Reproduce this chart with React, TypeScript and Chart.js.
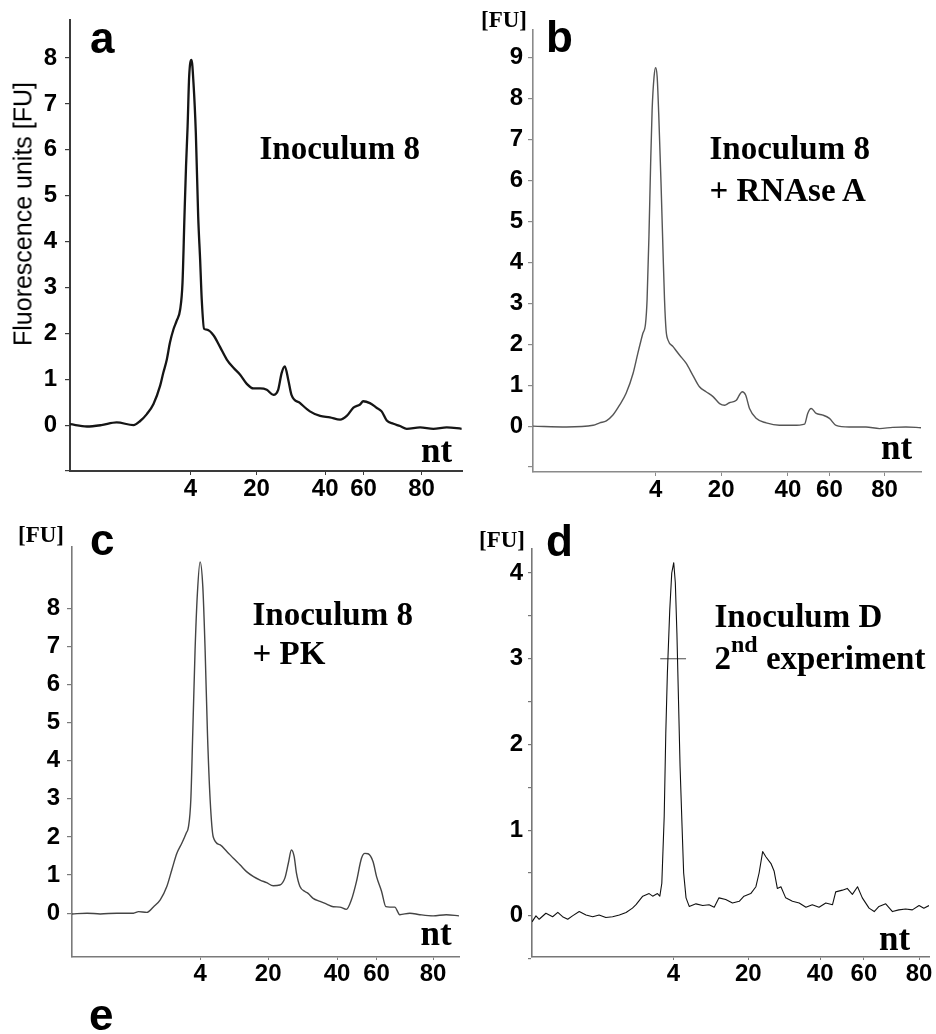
import React, { useEffect, useRef } from "react";
import { Chart, registerables } from "chart.js";
Chart.register(...registerables);

const SANS = '"Liberation Sans", Arial, sans-serif';
const SERIF = '"Liberation Serif", "Times New Roman", serif';

// x axis: migration position (0..100 of the axis), labelled with ladder sizes
const xTickLabels = ["4", "20", "40", "60", "80"];
const aTickPos = [30.7, 47.6, 65.1, 74.9, 89.7];
const bTickPos = [31.6, 48.5, 65.7, 76.4, 90.6];
const cTickPos = [33.1, 50.7, 68.5, 78.7, 93.3];
const dTickPos = [35.6, 54.5, 72.6, 83.6, 97.5];

// y ticks
const aYTicks = [-1, 0, 1, 2, 3, 4, 5, 6, 7, 8];
const aYLabels = [0, 1, 2, 3, 4, 5, 6, 7, 8];
const bYTicks = [-1, 0, 1, 2, 3, 4, 5, 6, 7, 8, 9];
const bYLabels = [0, 1, 2, 3, 4, 5, 6, 7, 8, 9];
const cYTicks = [0, 1, 2, 3, 4, 5, 6, 7, 8];
const cYLabels = [0, 1, 2, 3, 4, 5, 6, 7, 8];
const dYTicks = [-0.5, 0, 0.5, 1, 1.5, 2, 2.5, 3, 3.5, 4];
const dYLabels = [0, 1, 2, 3, 4];

// Panel a: Inoculum 8
const aX = [0, 4.3, 8, 11.9, 16.2, 17.9, 19.6, 21.3, 23.0, 23.8, 24.7, 25.5, 26.4, 27.2, 28.1, 28.7, 29.2, 29.6, 30.0, 30.4, 31.0, 31.5, 32.1, 32.7, 33.2, 33.6, 34.2, 34.9, 36.6, 38.3, 40.0, 41.7, 43.4, 45.1, 46.8, 48.5, 50.2, 51.9, 53.1, 54.0, 54.8, 55.7, 56.5, 58.7, 61.2, 63.8, 66.3, 68.9, 70.6, 72.3, 74.0, 74.8, 76.5, 78.2, 79.5, 80.8, 82.5, 84.2, 85.9, 89.3, 92.7, 96.1, 99.9];
const aY = [0.02, -0.03, 0.0, 0.06, 0.0, 0.09, 0.24, 0.46, 0.86, 1.14, 1.43, 1.8, 2.09, 2.27, 2.52, 3.1, 4.55, 5.64, 6.51, 7.6, 7.96, 7.46, 6.37, 4.55, 3.6, 2.75, 2.1, 2.08, 1.96, 1.7, 1.43, 1.25, 1.1, 0.9, 0.8, 0.8, 0.77, 0.66, 0.77, 1.14, 1.28, 0.98, 0.66, 0.48, 0.3, 0.2, 0.17, 0.12, 0.2, 0.38, 0.45, 0.52, 0.48, 0.38, 0.3, 0.1, 0.03, -0.02, -0.08, -0.05, -0.08, -0.05, -0.08];

// Panel b: Inoculum 8 + RNAse A
const bX = [0, 8.6, 15.5, 17.2, 18.9, 20.6, 22.3, 24.0, 25.8, 27.0, 28.3, 29.0, 29.4, 29.9, 30.3, 30.7, 31.2, 31.6, 32.0, 32.4, 33.0, 33.5, 33.9, 34.3, 34.8, 36.1, 37.8, 39.5, 41.2, 42.9, 44.6, 46.4, 48.1, 49.4, 50.6, 52.4, 53.2, 53.9, 54.8, 55.8, 57.5, 60.1, 63.5, 67.0, 70.0, 70.8, 71.7, 73.0, 74.7, 76.4, 78.1, 81.5, 85.8, 89.3, 92.7, 96.1, 100];
const bY = [0, -0.02, 0.02, 0.08, 0.13, 0.27, 0.51, 0.8, 1.29, 1.77, 2.26, 2.5, 3.08, 4.7, 6.33, 7.71, 8.53, 8.75, 8.53, 7.63, 5.92, 4.3, 3.08, 2.34, 2.1, 1.94, 1.73, 1.53, 1.24, 0.96, 0.84, 0.72, 0.55, 0.51, 0.57, 0.63, 0.76, 0.84, 0.76, 0.43, 0.19, 0.08, 0.02, 0.02, 0.05, 0.31, 0.43, 0.31, 0.27, 0.19, 0.02, -0.02, -0.02, -0.06, -0.03, -0.02, -0.04];

// Panel c: Inoculum 8 + PK
const cX = [0, 3.9, 7.3, 11.6, 15.9, 17.2, 19.3, 21.1, 22.8, 24.5, 25.8, 27.1, 28.4, 29.5, 30.1, 30.7, 31.2, 31.8, 32.4, 33.1, 33.8, 34.4, 35.0, 35.7, 36.5, 38.3, 40.0, 41.7, 43.4, 45.1, 46.9, 48.6, 50.3, 52.0, 53.7, 55.0, 55.9, 56.7, 57.4, 58.0, 58.9, 60.2, 61.0, 62.3, 64.1, 65.8, 67.5, 69.2, 70.9, 72.2, 73.5, 74.8, 75.7, 76.5, 77.8, 78.7, 80.0, 81.1, 82.1, 83.4, 84.7, 87.3, 89.9, 93.3, 96.7, 100];
const cY = [-0.02, 0, -0.02, 0, 0, 0.04, 0.02, 0.17, 0.35, 0.7, 1.14, 1.57, 1.84, 2.1, 2.27, 2.97, 4.72, 6.9, 8.39, 9.22, 8.57, 6.9, 4.72, 2.97, 2.0, 1.79, 1.62, 1.44, 1.27, 1.09, 0.96, 0.87, 0.8, 0.72, 0.74, 0.92, 1.31, 1.66, 1.49, 1.05, 0.7, 0.57, 0.52, 0.39, 0.31, 0.24, 0.17, 0.16, 0.1, 0.35, 0.83, 1.44, 1.57, 1.56, 1.35, 0.96, 0.57, 0.17, 0.16, 0.16, -0.04, 0, -0.04, -0.07, -0.04, -0.07];

// Panel d: Inoculum D, 2nd experiment
const dX = [0, 1.0, 1.8, 3.5, 5.2, 6.5, 7.7, 9.0, 10.2, 11.9, 13.6, 15.3, 16.9, 18.6, 20.3, 22.0, 23.7, 25.3, 26.2, 27.9, 29.5, 30.4, 31.6, 32.2, 32.7, 33.3, 33.7, 34.1, 34.7, 35.2, 35.7, 36.1, 36.5, 36.9, 37.3, 37.8, 38.2, 38.8, 39.6, 41.3, 43.0, 44.6, 45.9, 47.1, 48.8, 50.5, 52.2, 53.4, 55.1, 56.4, 57.2, 58.1, 58.9, 60.2, 61.0, 61.8, 62.7, 63.9, 65.6, 67.3, 69.0, 70.6, 72.3, 74.0, 75.7, 76.5, 78.2, 79.4, 80.7, 82.0, 83.2, 84.9, 86.2, 87.4, 89.1, 90.8, 92.4, 94.1, 95.8, 97.5, 98.7, 100];
const dY = [-0.07, 0, -0.04, 0.03, -0.01, 0.04, -0.01, -0.04, 0, 0.05, 0.01, -0.01, 0.01, -0.02, -0.01, 0.01, 0.04, 0.09, 0.13, 0.23, 0.26, 0.23, 0.26, 0.23, 0.38, 1.16, 2.13, 2.83, 3.57, 4.0, 4.12, 3.89, 3.3, 2.52, 1.74, 1.04, 0.5, 0.21, 0.11, 0.14, 0.12, 0.13, 0.1, 0.21, 0.19, 0.15, 0.17, 0.23, 0.26, 0.34, 0.5, 0.75, 0.69, 0.61, 0.52, 0.32, 0.34, 0.21, 0.17, 0.15, 0.1, 0.13, 0.1, 0.15, 0.13, 0.28, 0.3, 0.32, 0.25, 0.34, 0.21, 0.09, 0.05, 0.11, 0.14, 0.05, 0.07, 0.08, 0.07, 0.12, 0.09, 0.12];
const dMarkX = [32.3, 38.8];
const dMarkY = [3, 3];

type PanelCfg = {
  left: number; top: number; w: number; h: number;
  yW: number; xH: number; padTop: number; padRight: number;
  yMin: number; yMax: number; yTicks: number[]; yLabels: number[];
  xTicks: number[]; xs: number[]; ys: number[];
  lineColor: string; lineWidth: number; smooth: boolean;
  axisColor: string; axisWidth: number;
  yTl: number; yPad: number; xTl: number;
  markX?: number[]; markY?: number[];
};

const pts = (xs: number[], ys: number[]) => xs.map((x, i) => ({ x, y: ys[i] }));

function Panel({ cfg }: { cfg: PanelCfg }) {
  const ref = useRef<HTMLCanvasElement>(null);
  useEffect(() => {
    const datasets: any[] = [
      {
        data: pts(cfg.xs, cfg.ys),
        borderColor: cfg.lineColor,
        borderWidth: cfg.lineWidth,
        pointRadius: 0,
        cubicInterpolationMode: cfg.smooth ? "monotone" : "default",
        tension: 0,
        fill: false,
        borderJoinStyle: "round",
      },
    ];
    if (cfg.markX && cfg.markY) {
      datasets.push({
        data: pts(cfg.markX, cfg.markY),
        borderColor: "#666",
        borderWidth: 1.2,
        pointRadius: 0,
        fill: false,
      });
    }
    const tickFont = { family: SANS, weight: "bold" as const, size: 24 };
    const chart = new Chart(ref.current as HTMLCanvasElement, {
      type: "line",
      data: { datasets },
      options: {
        animation: false,
        responsive: false,
        devicePixelRatio: 1,
        events: [],
        layout: { padding: { left: 0, top: cfg.padTop, right: cfg.padRight, bottom: 0 } },
        plugins: { legend: { display: false }, tooltip: { enabled: false }, title: { display: false } },
        scales: {
          x: {
            type: "linear",
            min: 0,
            max: 100,
            afterBuildTicks: (s: any) => {
              s.ticks = cfg.xTicks.map((v) => ({ value: v }));
            },
            afterFit: (s: any) => {
              s.height = cfg.xH;
              s.paddingLeft = 0;
              s.paddingRight = 0;
            },
            ticks: {
              callback: (_v: any, i: number) => xTickLabels[i],
              autoSkip: false,
              maxRotation: 0,
              minRotation: 0,
              padding: 0,
              color: "#000",
              font: tickFont,
            },
            grid: {
              display: true,
              drawOnChartArea: false,
              drawTicks: true,
              tickLength: cfg.xTl,
              color: cfg.axisColor,
              lineWidth: 1,
            },
            border: { display: true, color: cfg.axisColor, width: cfg.axisWidth },
          },
          y: {
            type: "linear",
            min: cfg.yMin,
            max: cfg.yMax,
            afterBuildTicks: (s: any) => {
              s.ticks = cfg.yTicks.map((v) => ({ value: v }));
            },
            afterFit: (s: any) => {
              s.width = cfg.yW;
              s.paddingTop = 0;
              s.paddingBottom = 0;
            },
            ticks: {
              callback: (v: any) => (cfg.yLabels.includes(Number(v)) ? String(v) : ""),
              autoSkip: false,
              padding: cfg.yPad,
              color: "#000",
              font: tickFont,
            },
            grid: {
              display: true,
              drawOnChartArea: false,
              drawTicks: true,
              tickLength: cfg.yTl,
              color: cfg.axisColor,
              lineWidth: 1.2,
            },
            border: { display: true, color: cfg.axisColor, width: cfg.axisWidth },
          },
        },
      } as any,
    });
    return () => chart.destroy();
  }, []);
  return (
    <canvas
      ref={ref}
      width={cfg.w}
      height={cfg.h}
      style={{ position: "absolute", left: cfg.left, top: cfg.top, width: cfg.w, height: cfg.h }}
    />
  );
}

const panelA: PanelCfg = {
  left: 0, top: 0, w: 468, h: 510, yW: 70, xH: 39, padTop: 20, padRight: 6,
  yMin: -1, yMax: 8.83, yTicks: aYTicks, yLabels: aYLabels, xTicks: aTickPos, xs: aX, ys: aY,
  lineColor: "#151515", lineWidth: 2.3, smooth: true, axisColor: "#3a3a3a", axisWidth: 2, yTl: 5, yPad: 8, xTl: 4,
};
const panelB: PanelCfg = {
  left: 468, top: 0, w: 468, h: 510, yW: 65, xH: 38, padTop: 30, padRight: 15,
  yMin: -1.12, yMax: 9.67, yTicks: bYTicks, yLabels: bYLabels, xTicks: bTickPos, xs: bX, ys: bY,
  lineColor: "#555", lineWidth: 1.4, smooth: true, axisColor: "#8a8a8a", axisWidth: 1.6, yTl: 5, yPad: 5, xTl: 4,
};
const panelC: PanelCfg = {
  left: 0, top: 510, w: 468, h: 490, yW: 72, xH: 43, padTop: 37, padRight: 9,
  yMin: -1.15, yMax: 9.61, yTicks: cYTicks, yLabels: cYLabels, xTicks: cTickPos, xs: cX, ys: cY,
  lineColor: "#444", lineWidth: 1.4, smooth: true, axisColor: "#7a7a7a", axisWidth: 1.6, yTl: 5, yPad: 7, xTl: 3,
};
const panelD: PanelCfg = {
  left: 468, top: 510, w: 468, h: 490, yW: 64, xH: 43, padTop: 39, padRight: 7,
  yMin: -0.48, yMax: 4.28, yTicks: dYTicks, yLabels: dYLabels, xTicks: dTickPos, xs: dX, ys: dY,
  lineColor: "#111", lineWidth: 1.1, smooth: false, axisColor: "#777", axisWidth: 1.6, yTl: 4, yPad: 5, xTl: 3,
  markX: dMarkX, markY: dMarkY,
};

function Txt({ x, base, size, serif, children }: { x: number; base: number; size: number; serif?: boolean; children: React.ReactNode }) {
  const k = serif ? 0.8375 : 0.8465;
  return (
    <div
      style={{
        position: "absolute",
        left: x,
        top: base - k * size,
        fontSize: size,
        lineHeight: `${size}px`,
        fontFamily: serif ? SERIF : SANS,
        fontWeight: "bold",
        whiteSpace: "nowrap",
        color: "#000",
      }}
    >
      {children}
    </div>
  );
}

export default function App() {
  return (
    <div style={{ position: "absolute", left: 0, top: 0, width: 936, height: 1034, background: "#fff", overflow: "hidden" }}>
      <Panel cfg={panelA} />
      <Panel cfg={panelB} />
      <Panel cfg={panelC} />
      <Panel cfg={panelD} />

      {/* y axis title of panel a */}
      <div
        style={{
          position: "absolute",
          left: 22.5,
          top: 214,
          transform: "translate(-50%, -50%) rotate(-90deg)",
          fontFamily: SANS,
          fontSize: 25,
          lineHeight: "25px",
          whiteSpace: "nowrap",
          color: "#000",
        }}
      >
        Fluorescence units [FU]
      </div>

      {/* panel letters */}
      <Txt x={90} base={53} size={44}>a</Txt>
      <Txt x={546} base={52.7} size={44}>b</Txt>
      <Txt x={90} base={555} size={44}>c</Txt>
      <Txt x={546} base={556.5} size={44}>d</Txt>
      <Txt x={89} base={1030} size={44}>e</Txt>

      {/* [FU] unit labels */}
      <Txt x={481} base={27} size={23} serif>[FU]</Txt>
      <Txt x={18} base={542} size={23} serif>[FU]</Txt>
      <Txt x={479} base={547} size={23} serif>[FU]</Txt>

      {/* annotations */}
      <Txt x={259.5} base={159.3} size={33} serif>Inoculum 8</Txt>
      <Txt x={709.5} base={159.3} size={33} serif>Inoculum 8</Txt>
      <Txt x={709.5} base={201.7} size={33} serif>+ RNAse A</Txt>
      <Txt x={252.5} base={626} size={33} serif>Inoculum 8</Txt>
      <Txt x={252.5} base={665} size={33} serif>+ PK</Txt>
      <Txt x={714.5} base={627.7} size={33} serif>Inoculum D</Txt>
      <Txt x={714.5} base={669.3} size={33} serif>
        2<span style={{ fontSize: 24, position: "relative", top: -17 }}>nd</span> experiment
      </Txt>

      {/* axis unit "nt" */}
      <Txt x={421} base={462} size={35} serif>nt</Txt>
      <Txt x={881} base={459} size={35} serif>nt</Txt>
      <Txt x={420.5} base={945} size={35} serif>nt</Txt>
      <Txt x={879} base={950} size={35} serif>nt</Txt>
    </div>
  );
}
